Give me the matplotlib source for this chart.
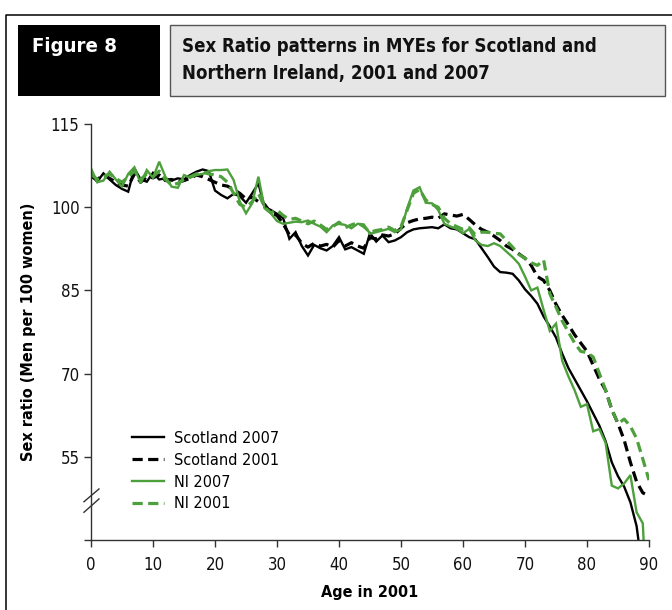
import numpy as np
import matplotlib
matplotlib.use("Agg")
import matplotlib.pyplot as plt
from matplotlib import font_manager as fm
from matplotlib.patches import Rectangle
from matplotlib.lines import Line2D

# ---------------- data ----------------
ages = np.arange(0, 91)

scotland_2007 = [
    105.8, 104.6, 106.1, 105.0, 104.0, 103.3, 102.8, 107.0, 105.0, 104.6,
    106.2, 105.0, 105.2, 104.8, 105.2, 105.0, 105.8, 106.4, 106.8, 106.5,
    103.0, 102.2, 101.6, 102.4, 102.0, 100.8, 102.5, 104.3, 100.0, 99.5,
    98.8, 98.0, 94.3, 95.5, 93.0, 91.3, 93.2, 92.6, 92.2, 93.0,
    94.6, 92.4, 92.8, 92.2, 91.6, 95.3, 93.8, 94.9, 93.7, 94.0,
    94.6, 95.5, 96.0, 96.2, 96.3, 96.4, 96.2, 96.9, 96.2, 96.0,
    95.3, 94.6, 94.2, 92.6, 91.0, 89.3, 88.3, 88.2, 88.0, 86.8,
    85.2, 84.0, 82.6, 80.3, 78.5, 76.5, 73.6, 71.0, 69.0, 67.0,
    65.0, 62.8, 60.6, 57.8, 54.0, 51.5, 49.6, 46.8, 42.5, 34.0,
    25.0,
]

scotland_2001 = [
    105.5, 105.0, 105.8, 105.2, 104.5, 104.0, 103.8, 106.0, 104.5, 105.5,
    105.3, 105.8, 104.8, 105.0, 104.5, 104.8, 105.2, 105.8, 105.5, 105.0,
    104.5, 104.0, 103.8, 103.2, 102.5, 101.5, 101.8, 101.0, 100.5, 99.0,
    98.5, 97.0, 95.0, 95.0, 93.5, 92.8, 93.5, 93.0, 93.3, 92.8,
    94.0, 93.0, 93.6, 93.0, 92.6, 94.5, 94.3, 95.0, 94.8, 95.2,
    96.2, 97.2, 97.6, 97.9, 98.0, 98.2, 98.0, 98.8, 98.6, 98.4,
    98.7, 97.8, 96.8, 96.0, 95.5, 94.8, 94.0, 93.0, 92.4, 91.6,
    90.8, 89.5, 87.5, 86.8, 85.0, 82.5, 80.5, 78.8, 77.0, 75.5,
    74.0, 71.5, 69.0, 67.0, 63.5, 61.0, 58.0, 54.0, 50.5, 48.5,
    48.0,
]

ni_2007 = [
    107.0, 104.5, 104.8, 106.4, 105.0, 103.7, 106.0, 107.2, 104.3, 106.7,
    105.3, 108.2, 105.5, 103.7, 103.5, 105.8, 105.3, 105.8, 106.0, 106.5,
    106.7, 106.7, 106.8, 104.9, 101.0, 98.9, 100.7, 105.5, 99.8, 98.9,
    97.5, 97.0, 97.2, 97.4, 97.3, 97.6, 97.0, 96.5, 95.5, 96.7,
    97.0, 96.8, 96.2, 97.0, 96.9, 95.2, 95.5, 95.8, 96.1, 95.5,
    96.0, 99.8, 103.0, 103.6, 100.8, 100.7, 99.5, 97.0, 96.5, 96.1,
    95.3, 96.1, 94.0, 93.2, 93.0, 93.5, 93.0, 92.0, 91.0, 89.8,
    87.5, 85.0, 85.5, 81.5, 77.7, 79.0, 72.3, 69.5, 67.0, 64.0,
    64.5, 59.6, 60.0, 57.5, 49.8, 49.3, 50.2, 51.7, 45.0, 43.0,
    20.0,
]

ni_2001 = [
    106.0, 105.0, 105.5, 106.0, 105.2, 104.5, 105.5, 106.5, 105.0, 106.0,
    105.5, 106.5, 105.0, 104.0, 104.3, 105.0, 105.5, 106.0, 106.3, 106.0,
    105.8, 105.5, 104.5, 102.5, 100.5, 100.0, 101.0, 102.5, 100.0, 99.0,
    99.5, 98.5, 97.8, 98.0, 97.5, 97.0, 97.5, 96.8, 96.0, 96.5,
    97.3, 96.3, 96.8, 97.2, 96.5, 95.5, 95.8, 96.0, 96.4, 95.8,
    96.5, 99.5, 102.5, 103.2, 101.3, 100.5, 100.0, 98.0, 97.0, 96.5,
    96.0, 96.3, 95.0, 95.5, 95.5, 95.3, 95.2, 94.0, 92.8, 91.5,
    90.8, 90.0, 89.5, 90.5, 84.4, 82.0, 79.5, 77.5, 75.5, 74.0,
    73.8, 73.0, 70.0, 67.0, 63.5, 61.0, 61.8, 60.5, 58.3, 54.6,
    50.8,
]

x_ticks = [0, 10, 20, 30, 40, 50, 60, 70, 80, 90]
y_ticks = [40, 55, 70, 85, 100, 115]
y_tick_labels = ["", "55", "70", "85", "100", "115"]

series_labels = ["Scotland 2007", "Scotland 2001", "NI 2007", "NI 2001"]
figure_tag = "Figure 8"
title_lines = ["Sex Ratio patterns in MYEs for Scotland and",
               "Northern Ireland, 2001 and 2007"]
x_label = "Age in 2001"
y_label = "Sex ratio (Men per 100 women)"


# ---------------- font: prefer a narrow sans ----------------
def pick_font():
    entries = fm.fontManager.ttflist
    names = {e.name for e in entries}
    if "Liberation Sans Narrow" in names:
        return "Liberation Sans Narrow", "normal", 1.0
    if any(e.name == "DejaVu Sans" and "condensed" in str(e.stretch).lower()
           for e in entries):
        return "DejaVu Sans", "condensed", 0.86
    return "DejaVu Sans", "normal", 0.8


FAMILY, STRETCH, SCALE = pick_font()
plt.rcParams["font.family"] = [FAMILY, "DejaVu Sans"]
plt.rcParams["font.stretch"] = STRETCH

BLACK = "#000000"
GREEN = "#4DA03C"
AXIS_GREY = "#333333"

W, H = 672, 610
fig = plt.figure(figsize=(W / 100, H / 100), dpi=100)


def fx(px):
    return px / W


def fy(py):
    return 1 - py / H


# ---------------- page furniture ----------------
fig.add_artist(Line2D([fx(6), fx(6), 1.0], [0.0, fy(15), fy(15)],
                      transform=fig.transFigure, color="black", lw=1.1))
fig.add_artist(Rectangle((fx(18), fy(96)), fx(160) - fx(18), fy(25) - fy(96),
                         transform=fig.transFigure, facecolor="black",
                         edgecolor="black", lw=0))
fig.add_artist(Rectangle((fx(170), fy(96)), fx(665) - fx(170), fy(25) - fy(96),
                         transform=fig.transFigure, facecolor="#E6E6E6",
                         edgecolor="#555555", lw=1.0))
fig.text(fx(32), fy(47), figure_tag, color="white", fontsize=17 * SCALE,
         fontweight="bold", va="center", ha="left")
fig.text(fx(182), fy(47), title_lines[0], color="#111111", fontsize=15.5 * SCALE,
         fontweight="bold", va="center", ha="left")
fig.text(fx(182), fy(74), title_lines[1], color="#111111", fontsize=15.5 * SCALE,
         fontweight="bold", va="center", ha="left")

# ---------------- chart ----------------
ax = fig.add_axes([fx(91), fy(540), fx(649) - fx(91), fy(124) - fy(540)])

styles = [
    dict(color=BLACK, lw=1.7, ls="-"),
    dict(color=BLACK, lw=2.3, ls=(0, (3.2, 1.7))),
    dict(color=GREEN, lw=1.7, ls="-"),
    dict(color=GREEN, lw=2.3, ls=(0, (3.2, 1.7))),
]
for vals, lab, st in zip([scotland_2007, scotland_2001, ni_2007, ni_2001],
                         series_labels, styles):
    ax.plot(ages, vals, label=lab, solid_joinstyle="miter", **st)

ax.set_xlim(0, 90)
ax.set_ylim(40, 115)
ax.set_xticks(x_ticks)
ax.set_yticks(y_ticks)
ax.set_yticklabels(y_tick_labels)

for side in ("top", "right"):
    ax.spines[side].set_visible(False)
for side in ("left", "bottom"):
    ax.spines[side].set_color(AXIS_GREY)
    ax.spines[side].set_linewidth(1.0)

tick_fs = 14 * SCALE
ax.tick_params(axis="both", direction="out", length=5.2, width=1.0,
               color=AXIS_GREY, labelsize=tick_fs, labelcolor="#111111", pad=3)
ax.tick_params(axis="x", pad=6)

ax.set_xlabel(x_label, fontsize=13.5 * SCALE, fontweight="bold", labelpad=8)
ax.set_ylabel(y_label, fontsize=13.5 * SCALE, fontweight="bold", labelpad=11)

# axis break marks on the y axis
ytr = ax.get_yaxis_transform()
for y0, y1 in [(46.9, 49.2), (45.0, 47.4)]:
    ax.plot([-0.0126, 0.0143], [y0, y1], transform=ytr, color=AXIS_GREY,
            lw=1.0, clip_on=False)

leg = ax.legend(loc="upper left", bbox_to_anchor=(0.0735, 0.262),
                frameon=False, fontsize=13.5 * SCALE, handlelength=2.0,
                handletextpad=0.6, labelspacing=0.42, borderpad=0,
                borderaxespad=0)

fig.savefig("out.png", dpi=100)
